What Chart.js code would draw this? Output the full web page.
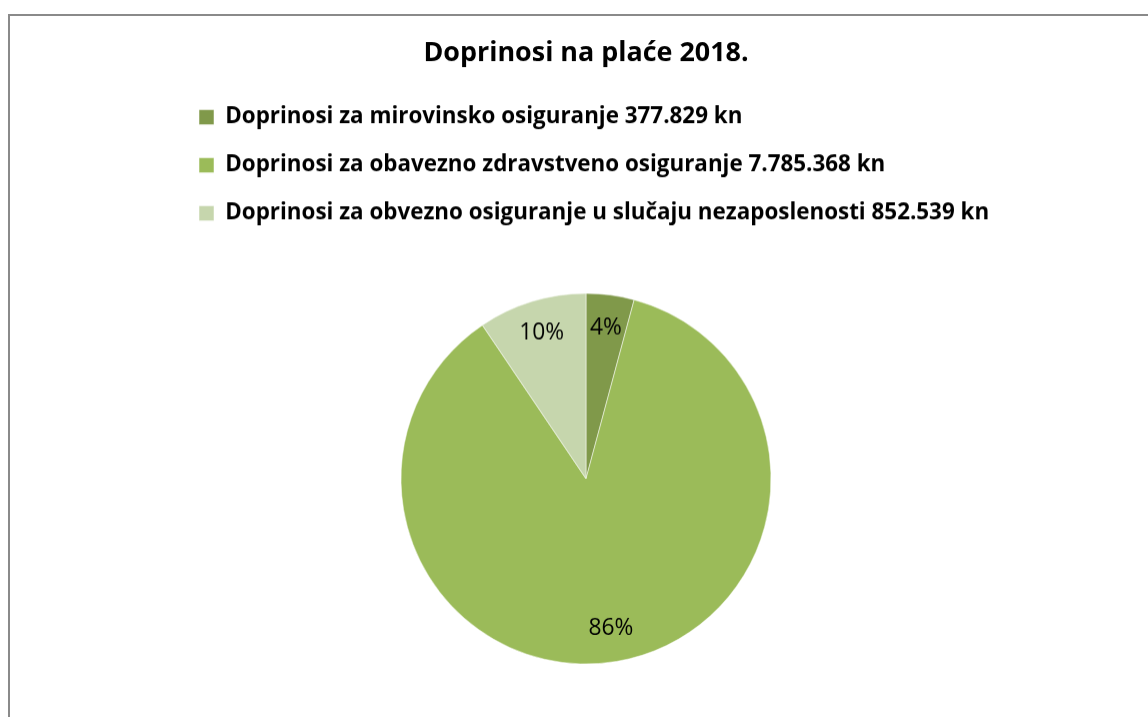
<!DOCTYPE html>
<html>
<head>
<meta charset="utf-8">
<script src="https://cdn.jsdelivr.net/npm/chart.js@4.4.1/dist/chart.umd.min.js"></script>
<style>
  html, body { margin: 0; padding: 0; background: #fff; overflow: hidden; width: 1148px; height: 717px; }
  #box { position: absolute; left: 8px; top: 14px; width: 1152px; height: 720px; border: 2px solid #8a8a8a; background: #fff; }
  #wrap { position: absolute; left: 0; top: 0; width: 1152px; }
</style>
</head>
<body>
<div id="box"><div id="wrap"><canvas id="c"></canvas></div></div>
<script>
const titleText = 'Doprinosi na plaće 2018.';
const categories = [
  'Doprinosi za mirovinsko osiguranje 377.829 kn',
  'Doprinosi za obavezno zdravstveno osiguranje 7.785.368 kn',
  'Doprinosi za obvezno osiguranje u slučaju nezaposlenosti 852.539 kn'
];
const values = [377829, 7785368, 852539];
const percentLabels = ['4%', '86%', '10%'];
const colors = ['#80994a', '#9bbb59', '#c6d6ad'];

const FAMILY = 'Open Sans';
const TITLE_SIZE = 26.9;
const LEGEND_SIZE = 22.4;
const LABEL_SIZE = 22.8;

const LINE = 48;
const legendPad = LINE - LEGEND_SIZE;
const legendTop = 53 + LEGEND_SIZE / 2;
const titlePadTop = 37 - 0.6 * TITLE_SIZE;
const titlePadBottom = legendTop - (titlePadTop + 1.2 * TITLE_SIZE);
const sidePad = 141 + LEGEND_SIZE;
const canvasH = 717 - LEGEND_SIZE / 2;
document.getElementById('wrap').style.height = canvasH + 'px';

const pctLabelPlugin = {
  id: 'pctLabels',
  afterDatasetsDraw(chart) {
    const ctx = chart.ctx;
    const meta = chart.getDatasetMeta(0);
    ctx.save();
    ctx.font = LABEL_SIZE + 'px "' + FAMILY + '"';
    ctx.fillStyle = '#000';
    ctx.textAlign = 'center';
    ctx.textBaseline = 'middle';
    meta.data.forEach((arc, i) => {
      const p = arc.getProps(['x', 'y', 'startAngle', 'endAngle', 'outerRadius'], true);
      const mid = (p.startAngle + p.endAngle) / 2;
      const r = p.outerRadius * 0.82;
      ctx.fillText(percentLabels[i], p.x + Math.cos(mid) * r, p.y + Math.sin(mid) * r);
    });
    ctx.restore();
  }
};

new Chart(document.getElementById('c'), {
  type: 'pie',
  data: {
    labels: categories,
    datasets: [{
      data: values,
      backgroundColor: colors,
      borderColor: 'rgba(255,255,255,0.5)',
      borderWidth: 1,
      radius: 185
    }]
  },
  options: {
    responsive: true,
    maintainAspectRatio: false,
    animation: false,
    layout: { padding: { left: sidePad, right: sidePad, top: 0, bottom: 0 } },
    plugins: {
      title: {
        display: true,
        text: titleText,
        color: '#000',
        font: { family: FAMILY, size: TITLE_SIZE, weight: 'bold', lineHeight: 1.2 },
        padding: { top: titlePadTop, bottom: titlePadBottom }
      },
      legend: {
        display: true,
        position: 'top',
        align: 'start',
        labels: {
          color: '#000',
          boxWidth: 15,
          boxHeight: 15,
          padding: legendPad,
          font: { family: FAMILY, size: LEGEND_SIZE, weight: 'bold' }
        }
      },
      tooltip: { enabled: false }
    }
  },
  plugins: [pctLabelPlugin]
});
</script>
</body>
</html>
